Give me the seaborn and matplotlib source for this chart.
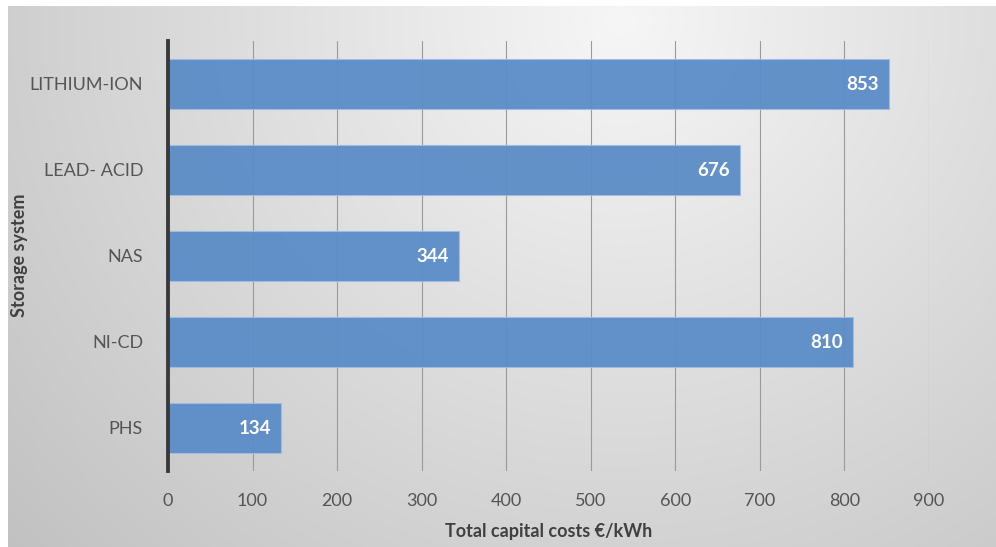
import numpy as np
import pandas as pd
import matplotlib
matplotlib.use("Agg")
import matplotlib.pyplot as plt
import seaborn as sns

# Storage technologies and their total capital cost (€/kWh)
systems = ["LITHIUM-ION", "LEAD- ACID", "NAS", "NI-CD", "PHS"]
costs = [853, 676, 344, 810, 134]
x_ticks = [0, 100, 200, 300, 400, 500, 600, 700, 800, 900]

df = pd.DataFrame({"system": systems, "cost": costs})

sns.set_theme(style="white")
plt.rcParams["font.family"] = ["Lato", "DejaVu Sans"]

W, H = 996, 547
fig = plt.figure(figsize=(W / 100, H / 100), dpi=100)
fig.patch.set_facecolor("white")

# Soft radial grey gradient behind the chart
x0, ytop = 8, 6
bg = fig.add_axes([x0 / W, 0, 1 - x0 / W, 1 - ytop / H], zorder=-5)
gx, gy = np.meshgrid(np.arange(x0, W), np.arange(ytop, H))
r = np.hypot((gx - 620) * 1.0, (gy - 20) * 1.05)
val = np.clip(246 - 0.064 * r, 188, 250) / 255.0
bg.imshow(np.dstack([val, val, val]), aspect="auto", interpolation="bilinear")
bg.set_axis_off()

ax_left, ax_right, ax_top, ax_bottom = 168, 929, 41, 471
ax = fig.add_axes([ax_left / W, 1 - ax_bottom / H,
                   (ax_right - ax_left) / W, (ax_bottom - ax_top) / H])
ax.set_facecolor("none")

sns.barplot(data=df, y="system", x="cost", orient="h", color="#5b8cc7",
            width=0.58, saturation=1, ax=ax, zorder=3, alpha=0.95,
            edgecolor="#9dbde3", linewidth=0.8)

ax.set_xlim(0, 900)
ax.set_ylim(4.5, -0.5)
ax.set_xticks(x_ticks)
ax.set_xticklabels([str(t) for t in x_ticks])
ax.grid(axis="x", color="#9a9a9a", linewidth=0.8, zorder=1)
ax.set_axisbelow(True)

for side in ["top", "right", "bottom"]:
    ax.spines[side].set_visible(False)
ax.spines["left"].set_color("#3a3a3a")
ax.spines["left"].set_linewidth(2.8)
ax.spines["left"].set_zorder(4)

ax.tick_params(axis="x", length=0, pad=16, labelsize=13, labelcolor="#555555")
ax.tick_params(axis="y", length=0, pad=18, labelsize=13, labelcolor="#555555")

ax.set_xlabel("Total capital costs €/kWh", fontsize=13, fontweight="bold",
              color="#404040")
ax.set_ylabel("Storage system", fontsize=13, fontweight="bold",
              color="#404040")
# Place axis titles at fixed pixel offsets from the plot area
ax.xaxis.set_label_coords(0.5 - 40 / (ax_right - ax_left) * 0,
                          -(531 - ax_bottom) / (ax_bottom - ax_top))
ax.yaxis.set_label_coords(-(ax_left - 20) / (ax_right - ax_left),
                          1 - (255 - ax_top) / (ax_bottom - ax_top))
ax.xaxis.label.set_va("center")
ax.yaxis.label.set_va("center")

# Value labels inside each bar end
for i, v in enumerate(costs):
    ax.text(v - 12, i, str(v), ha="right", va="center", color="white",
            fontsize=13.5, fontweight="bold", zorder=5)

fig.savefig("out.png", dpi=100)
